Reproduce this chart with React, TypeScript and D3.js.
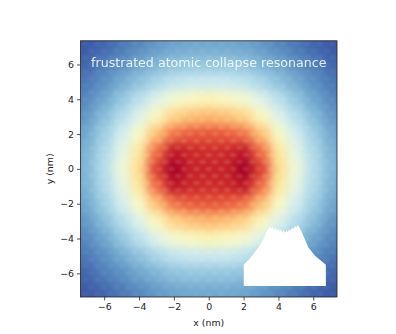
import React, { useEffect, useRef } from "react";
import * as d3 from "d3";

const title = "frustrated atomic collapse resonance";
const xLabel = "x (nm)";
const yLabel = "y (nm)";
const tickValues = [-6, -4, -2, 0, 2, 4, 6];

// grid positions in nm
const gridX = [-8, -7, -6, -5, -4, -3, -2, -1, 0, 1, 2, 3, 4, 5, 6, 7, 8];
const gridY = [8, 7, 6, 5, 4, 3, 2, 1, 0, -1, -2, -3, -4, -5, -6, -7, -8];

// intensity in percent, top row first
const intensity = [
  [3, 4, 6, 9, 11, 13, 15, 16, 16, 16, 15, 13, 11, 9, 6, 4, 3],
  [4, 6, 8, 11, 14, 17, 19, 20, 20, 20, 19, 17, 14, 11, 8, 6, 4],
  [6, 8, 12, 15, 19, 22, 25, 26, 26, 26, 25, 22, 19, 15, 12, 8, 6],
  [8, 11, 15, 20, 25, 30, 34, 36, 36, 36, 34, 30, 25, 20, 15, 11, 8],
  [10, 14, 19, 26, 33, 41, 47, 50, 52, 50, 47, 41, 33, 26, 19, 14, 10],
  [13, 17, 24, 32, 41, 51, 62, 66, 68, 66, 62, 51, 41, 32, 24, 17, 13],
  [15, 20, 28, 38, 49, 66, 79, 83, 84, 83, 79, 66, 49, 38, 28, 20, 15],
  [17, 22, 31, 42, 57, 80, 95, 92, 91, 92, 95, 80, 57, 42, 31, 22, 17],
  [18, 23, 32, 45, 60, 88, 100, 93, 93, 93, 100, 88, 60, 45, 32, 23, 18],
  [17, 22, 31, 42, 57, 80, 95, 92, 91, 92, 95, 80, 57, 42, 31, 22, 17],
  [15, 20, 28, 38, 49, 66, 79, 83, 84, 83, 79, 66, 49, 38, 28, 20, 15],
  [13, 17, 24, 32, 41, 51, 62, 66, 68, 66, 62, 51, 41, 32, 24, 17, 13],
  [10, 14, 19, 26, 33, 41, 47, 50, 52, 50, 47, 41, 33, 26, 19, 14, 10],
  [8, 11, 15, 20, 25, 30, 34, 36, 36, 36, 34, 30, 25, 20, 15, 11, 8],
  [6, 8, 12, 15, 19, 22, 25, 26, 26, 26, 25, 22, 19, 15, 12, 8, 6],
  [4, 6, 8, 11, 14, 17, 19, 20, 20, 20, 19, 17, 14, 11, 8, 6, 4],
  [3, 4, 6, 9, 11, 13, 15, 16, 16, 16, 15, 13, 11, 9, 6, 4, 3],
];

// white inset outline in nm
const insetX = [2.01, 2.37, 2.83, 3.12, 3.29, 3.41, 3.5, 3.58, 3.66, 3.74, 3.82, 3.9, 3.98, 4.06, 4.14, 4.22, 4.3, 4.38, 4.46, 4.54, 4.62, 4.7, 4.78, 4.86, 4.94, 5.02, 5.1, 5.2, 5.36, 5.71, 6.11, 6.72];
const insetTop = [-5.5, -5.13, -4.55, -4.09, -3.69, -3.45, -3.3, -3.46, -3.32, -3.5, -3.37, -3.56, -3.42, -3.6, -3.47, -3.64, -3.53, -3.68, -3.53, -3.62, -3.47, -3.55, -3.38, -3.46, -3.28, -3.36, -3.22, -3.35, -3.68, -4.5, -5.0, -5.5];
const insetBottom = -6.73;

const latticeX = 0.71;
const latticeY = 0.8;

export default function App() {
  const ref = useRef<SVGSVGElement>(null);

  useEffect(() => {
    const svg = d3.select(ref.current);
    svg.selectAll("*").remove();

    const x = d3.scaleLinear().domain([-7.36, 7.36]).range([80.5, 337]);
    const y = d3.scaleLinear().domain([-7.36, 7.36]).range([297, 40.8]);
    const color = d3.scaleSequential(d3.interpolateRdYlBu).domain([100, 0]);

    const defs = svg.append("defs");
    defs
      .append("clipPath")
      .attr("id", "plot")
      .append("rect")
      .attr("x", x(-7.36))
      .attr("y", y(7.36))
      .attr("width", x(7.36) - x(-7.36))
      .attr("height", y(-7.36) - y(7.36));

    const blur = defs
      .append("filter")
      .attr("id", "smooth")
      .attr("filterUnits", "userSpaceOnUse")
      .attr("x", 0)
      .attr("y", 0)
      .attr("width", 396)
      .attr("height", 334)
      .attr("color-interpolation-filters", "sRGB");
    blur.append("feGaussianBlur").attr("stdDeviation", 5.5);

    const soft = defs.append("filter").attr("id", "soft");
    soft.append("feGaussianBlur").attr("stdDeviation", 1.1);

    const textSoft = defs
      .append("filter")
      .attr("id", "textSoft")
      .attr("filterUnits", "userSpaceOnUse")
      .attr("x", 0)
      .attr("y", 0)
      .attr("width", 396)
      .attr("height", 334);
    textSoft.append("feGaussianBlur").attr("stdDeviation", 0.3);

    // lattice shows most over the red middle, hardly at all over the blue rim
    const fade = defs
      .append("radialGradient")
      .attr("id", "fade")
      .attr("gradientUnits", "userSpaceOnUse")
      .attr("cx", x(0))
      .attr("cy", y(0))
      .attr("r", x(7.36) - x(0));
    fade.append("stop").attr("offset", "0%").attr("stop-color", "#fff");
    fade.append("stop").attr("offset", "55%").attr("stop-color", "#bbb");
    fade.append("stop").attr("offset", "100%").attr("stop-color", "#555");
    const mask = defs
      .append("mask")
      .attr("id", "latticeMask")
      .attr("maskUnits", "userSpaceOnUse")
      .attr("x", 0)
      .attr("y", 0)
      .attr("width", 396)
      .attr("height", 334);
    mask.append("rect").attr("width", 396).attr("height", 334).attr("fill", "url(#fade)");

    const dx = x(latticeX) - x(0);
    const dy = y(0) - y(latticeY);
    const pattern = defs
      .append("pattern")
      .attr("id", "lattice")
      .attr("patternUnits", "userSpaceOnUse")
      .attr("x", x(0))
      .attr("y", y(0))
      .attr("width", dx)
      .attr("height", dy);
    [
      [dx / 2, dy / 2],
      [0, 0],
      [dx, 0],
      [0, dy],
      [dx, dy],
    ].forEach(([cx, cy]) => {
      pattern
        .append("ellipse")
        .attr("cx", cx)
        .attr("cy", cy)
        .attr("rx", dx * 0.27)
        .attr("ry", dy * 0.15)
        .attr("fill", "#fff")
        .attr("opacity", 0.15);
    });

    const plot = svg.append("g").attr("clip-path", "url(#plot)");
    const field = plot.append("g").attr("filter", "url(#smooth)");
    const step = x(1) - x(0);

    gridY.forEach((gy, r) => {
      gridX.forEach((gx, c) => {
        // outer cells run on past the axes so the blur has no edge inside the frame
        const padL = c === 0 ? 60 : 0;
        const padR = c === gridX.length - 1 ? 60 : 0;
        const padT = r === 0 ? 60 : 0;
        const padB = r === gridY.length - 1 ? 60 : 0;
        field
          .append("rect")
          .attr("x", x(gx) - step / 2 - padL)
          .attr("y", y(gy) - step / 2 - padT)
          .attr("width", step + 0.5 + padL + padR)
          .attr("height", step + 0.5 + padT + padB)
          .attr("fill", color(intensity[r][c]));
      });
    });

    plot
      .append("g")
      .attr("mask", "url(#latticeMask)")
      .append("g")
      .attr("filter", "url(#soft)")
      .append("rect")
      .attr("x", x(-7.36))
      .attr("y", y(7.36))
      .attr("width", x(7.36) - x(-7.36))
      .attr("height", y(-7.36) - y(7.36))
      .attr("fill", "url(#lattice)");

    const area = d3
      .area<number>()
      .x((d) => x(d))
      .y0(y(insetBottom))
      .y1((_, i) => y(insetTop[i]));
    plot.append("path").attr("d", area(insetX)).attr("fill", "#fff");

    plot
      .append("text")
      .attr("x", x(0))
      .attr("y", y(6))
      .attr("dy", 3)
      .attr("text-anchor", "middle")
      .attr("font-family", "DejaVu Sans")
      .attr("font-size", 12.65)
      .attr("fill", "#fff")
      .attr("opacity", 0.85)
      .attr("filter", "url(#textSoft)")
      .text(title);

    const xAxis = svg
      .append("g")
      .attr("transform", `translate(0,${y(-7.36)})`)
      .call(d3.axisBottom(x).tickValues(tickValues).tickSize(3.5).tickPadding(3).tickSizeOuter(0).tickFormat(d3.format("d")));
    const yAxis = svg
      .append("g")
      .attr("transform", `translate(${x(-7.36)},0)`)
      .call(d3.axisLeft(y).tickValues(tickValues).tickSize(3.5).tickPadding(3).tickSizeOuter(0).tickFormat(d3.format("d")));

    [xAxis, yAxis].forEach((axis) => {
      axis.selectAll(".domain").remove();
      axis.selectAll("line").attr("stroke", "#222").attr("stroke-width", 0.8);
      axis.selectAll("text").attr("fill", "#222").attr("font-family", "DejaVu Sans").attr("font-size", 9.4);
    });

    svg
      .append("rect")
      .attr("x", x(-7.36))
      .attr("y", y(7.36))
      .attr("width", x(7.36) - x(-7.36))
      .attr("height", y(-7.36) - y(7.36))
      .attr("fill", "none")
      .attr("stroke", "#222")
      .attr("stroke-width", 0.8);

    svg
      .append("text")
      .attr("x", x(0))
      .attr("y", 326)
      .attr("text-anchor", "middle")
      .attr("font-family", "DejaVu Sans")
      .attr("font-size", 9.4)
      .attr("fill", "#222")
      .text(xLabel);

    svg
      .append("text")
      .attr("transform", `translate(53,${y(0)}) rotate(-90)`)
      .attr("text-anchor", "middle")
      .attr("font-family", "DejaVu Sans")
      .attr("font-size", 9.4)
      .attr("fill", "#222")
      .text(yLabel);
  }, []);

  return (
    <svg
      ref={ref}
      width={396}
      height={334}
      style={{ position: "absolute", left: 0, top: 0, background: "#fff" }}
    />
  );
}
